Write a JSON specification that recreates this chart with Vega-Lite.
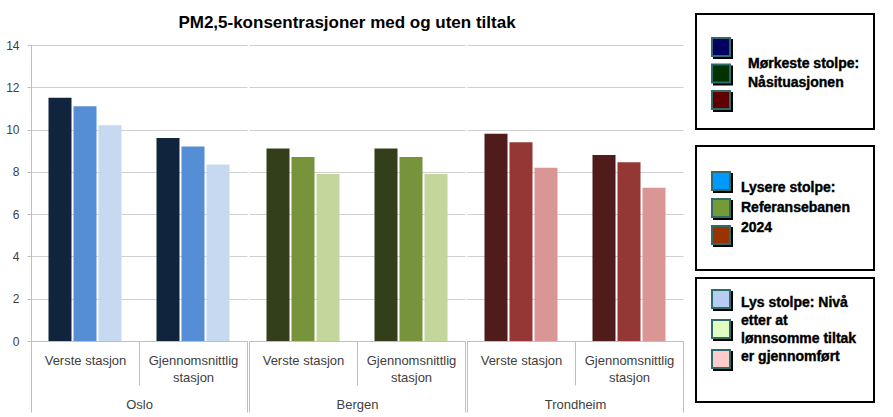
{
  "$schema": "https://vega.github.io/schema/vega-lite/v6.json",
  "padding": {"left": 5, "top": 13, "right": 0, "bottom": 0},
  "background": "#ffffff",
  "config": {
    "font": "Liberation Sans",
    "view": {"stroke": null},
    "axis": {"labelFont": "Liberation Sans", "titleFont": "Liberation Sans"}
  },
  "datasets": {
    "bars": [
      {"city": "Oslo", "station": "Verste stasjon", "level": "Nåsituasjonen", "value": 11.5},
      {"city": "Oslo", "station": "Verste stasjon", "level": "Referansebanen 2024", "value": 11.1},
      {"city": "Oslo", "station": "Verste stasjon", "level": "Etter lønnsomme tiltak", "value": 10.2},
      {"city": "Oslo", "station": "Gjennomsnittlig stasjon", "level": "Nåsituasjonen", "value": 9.6},
      {"city": "Oslo", "station": "Gjennomsnittlig stasjon", "level": "Referansebanen 2024", "value": 9.2},
      {"city": "Oslo", "station": "Gjennomsnittlig stasjon", "level": "Etter lønnsomme tiltak", "value": 8.35},
      {"city": "Bergen", "station": "Verste stasjon", "level": "Nåsituasjonen", "value": 9.1},
      {"city": "Bergen", "station": "Verste stasjon", "level": "Referansebanen 2024", "value": 8.7},
      {"city": "Bergen", "station": "Verste stasjon", "level": "Etter lønnsomme tiltak", "value": 7.9},
      {"city": "Bergen", "station": "Gjennomsnittlig stasjon", "level": "Nåsituasjonen", "value": 9.1},
      {"city": "Bergen", "station": "Gjennomsnittlig stasjon", "level": "Referansebanen 2024", "value": 8.7},
      {"city": "Bergen", "station": "Gjennomsnittlig stasjon", "level": "Etter lønnsomme tiltak", "value": 7.9},
      {"city": "Trondheim", "station": "Verste stasjon", "level": "Nåsituasjonen", "value": 9.8},
      {"city": "Trondheim", "station": "Verste stasjon", "level": "Referansebanen 2024", "value": 9.4},
      {"city": "Trondheim", "station": "Verste stasjon", "level": "Etter lønnsomme tiltak", "value": 8.2},
      {"city": "Trondheim", "station": "Gjennomsnittlig stasjon", "level": "Nåsituasjonen", "value": 8.8},
      {"city": "Trondheim", "station": "Gjennomsnittlig stasjon", "level": "Referansebanen 2024", "value": 8.45},
      {"city": "Trondheim", "station": "Gjennomsnittlig stasjon", "level": "Etter lønnsomme tiltak", "value": 7.25}
    ]
  },
  "spacing": 11,
  "resolve": {"scale": {"fill": "independent", "color": "independent"}},
  "hconcat": [
    {
      "spacing": 7,
      "vconcat": [
        {
          "width": 632, "height": 18,
          "data": {"values": [{"title": "PM2,5-konsentrasjoner med og uten tiltak"}]},
          "mark": {"type": "text", "font": "Liberation Sans", "fontSize": 17, "fontWeight": "bold", "color": "#000000", "align": "center", "baseline": "middle"},
          "encoding": {"text": {"field": "title"}}
        },
        {
          "spacing": 0,
          "resolve": {"scale": {"color": "independent"}},
          "hconcat": [
            {
              "width": 216, "height": 296,
              "data": {"name": "bars"},
              "transform": [{"filter": "datum.city === 'Oslo'"}],
              "mark": {"type": "bar"},
              "encoding": {
                "x": {"field": "station", "type": "nominal", "sort": ["Verste stasjon", "Gjennomsnittlig stasjon"],
                  "scale": {"paddingInner": 0, "paddingOuter": 0},
                  "axis": {"title": "Oslo", "titleY": 63, "titleBaseline": "middle", "titleFontSize": 13, "titleFontWeight": "normal", "titleColor": "#404040",
                    "labelAngle": 0, "labelFontSize": 13, "labelColor": "#404040", "labelLineHeight": 17, "labelBaseline": "top",
                    "labelPadding": {"condition": {"test": "datum.value === 'Verste stasjon'", "value": -31}, "value": -58},
                    "labelExpr": "datum.value == 'Gjennomsnittlig stasjon' ? ['Gjennomsnittlig', 'stasjon'] : datum.value",
                    "domainColor": "#bfbfbf", "tickColor": "#bfbfbf", "tickBand": "extent",
                    "tickSize": {"condition": {"test": "datum.value === 'Verste stasjon'", "value": 44}, "value": 71}}},
                "xOffset": {"field": "level", "type": "nominal", "sort": ["Nåsituasjonen", "Referansebanen 2024", "Etter lønnsomme tiltak"], "scale": {"paddingInner": 0.08, "paddingOuter": 0.7}},
                "y": {"field": "value", "type": "quantitative", "scale": {"domain": [0, 14]},
                  "axis": {"title": null, "values": [0, 2, 4, 6, 8, 10, 12, 14], "grid": true, "gridColor": "#d0d0d0", "domainColor": "#bfbfbf", "tickColor": "#bfbfbf", "tickSize": 4, "labelPadding": 8, "labelFontSize": 12, "labelColor": "#404040"}},
                "color": {"field": "level", "type": "nominal", "sort": ["Nåsituasjonen", "Referansebanen 2024", "Etter lønnsomme tiltak"], "scale": {"range": ["#10243e", "#558ed5", "#c6d9f1"]}, "legend": null}
              }
            },
            {
              "width": 216, "height": 296,
              "data": {"name": "bars"},
              "transform": [{"filter": "datum.city === 'Bergen'"}],
              "mark": {"type": "bar"},
              "encoding": {
                "x": {"field": "station", "type": "nominal", "sort": ["Verste stasjon", "Gjennomsnittlig stasjon"],
                  "scale": {"paddingInner": 0, "paddingOuter": 0},
                  "axis": {"title": "Bergen", "titleY": 63, "titleBaseline": "middle", "titleFontSize": 13, "titleFontWeight": "normal", "titleColor": "#404040",
                    "labelAngle": 0, "labelFontSize": 13, "labelColor": "#404040", "labelLineHeight": 17, "labelBaseline": "top",
                    "labelPadding": {"condition": {"test": "datum.value === 'Verste stasjon'", "value": -31}, "value": -58},
                    "labelExpr": "datum.value == 'Gjennomsnittlig stasjon' ? ['Gjennomsnittlig', 'stasjon'] : datum.value",
                    "domainColor": "#bfbfbf", "tickColor": "#bfbfbf", "tickBand": "extent",
                    "tickSize": {"condition": {"test": "datum.value === 'Verste stasjon'", "value": 44}, "value": 71}}},
                "xOffset": {"field": "level", "type": "nominal", "sort": ["Nåsituasjonen", "Referansebanen 2024", "Etter lønnsomme tiltak"], "scale": {"paddingInner": 0.08, "paddingOuter": 0.7}},
                "y": {"field": "value", "type": "quantitative", "scale": {"domain": [0, 14]},
                  "axis": {"title": null, "values": [0, 2, 4, 6, 8, 10, 12, 14], "grid": true, "gridColor": "#d0d0d0", "domain": false, "ticks": false, "labels": false}},
                "color": {"field": "level", "type": "nominal", "sort": ["Nåsituasjonen", "Referansebanen 2024", "Etter lønnsomme tiltak"], "scale": {"range": ["#323f1a", "#77933c", "#c3d69b"]}, "legend": null}
              }
            },
            {
              "width": 216, "height": 296,
              "data": {"name": "bars"},
              "transform": [{"filter": "datum.city === 'Trondheim'"}],
              "mark": {"type": "bar"},
              "encoding": {
                "x": {"field": "station", "type": "nominal", "sort": ["Verste stasjon", "Gjennomsnittlig stasjon"],
                  "scale": {"paddingInner": 0, "paddingOuter": 0},
                  "axis": {"title": "Trondheim", "titleY": 63, "titleBaseline": "middle", "titleFontSize": 13, "titleFontWeight": "normal", "titleColor": "#404040",
                    "labelAngle": 0, "labelFontSize": 13, "labelColor": "#404040", "labelLineHeight": 17, "labelBaseline": "top",
                    "labelPadding": {"condition": {"test": "datum.value === 'Verste stasjon'", "value": -31}, "value": -58},
                    "labelExpr": "datum.value == 'Gjennomsnittlig stasjon' ? ['Gjennomsnittlig', 'stasjon'] : datum.value",
                    "domainColor": "#bfbfbf", "tickColor": "#bfbfbf", "tickBand": "extent",
                    "tickSize": {"condition": {"test": "datum.value === 'Verste stasjon'", "value": 44}, "value": 71}}},
                "xOffset": {"field": "level", "type": "nominal", "sort": ["Nåsituasjonen", "Referansebanen 2024", "Etter lønnsomme tiltak"], "scale": {"paddingInner": 0.08, "paddingOuter": 0.7}},
                "y": {"field": "value", "type": "quantitative", "scale": {"domain": [0, 14]},
                  "axis": {"title": null, "values": [0, 2, 4, 6, 8, 10, 12, 14], "grid": true, "gridColor": "#d0d0d0", "domain": false, "ticks": false, "labels": false}},
                "color": {"field": "level", "type": "nominal", "sort": ["Nåsituasjonen", "Referansebanen 2024", "Etter lønnsomme tiltak"], "scale": {"range": ["#4f1b1b", "#953735", "#d99694"]}, "legend": null}
              }
            }
          ]
        }
      ]
    },
    {
      "spacing": 15,
      "resolve": {"scale": {"fill": "independent"}},
      "vconcat": [
        {
          "width": 178, "height": 115,
          "view": {"stroke": "#000000", "strokeWidth": 2},
          "resolve": {"scale": {"y": "independent"}},
          "layer": [
            {
              "data": {"values": [{"city": "Oslo"}, {"city": "Bergen"}, {"city": "Trondheim"}]},
              "layer": [
                {
                  "mark": {"type": "square", "size": 400, "filled": true, "color": "#000000", "opacity": 1, "xOffset": 2, "yOffset": 2},
                  "encoding": {
                    "x": {"datum": "swatch", "type": "nominal", "scale": {"type": "point", "domain": ["swatch", "text"], "range": [25, 52], "padding": 0}, "axis": null},
                    "y": {"field": "city", "type": "nominal", "scale": {"type": "point", "domain": ["Oslo", "Bergen", "Trondheim"], "range": [33, 86], "padding": 0}, "axis": null}
                  }
                },
                {
                  "mark": {"type": "square", "size": 324, "filled": true, "opacity": 1, "stroke": "#2e6b6b", "strokeWidth": 2},
                  "encoding": {
                    "x": {"datum": "swatch", "type": "nominal", "axis": null},
                    "y": {"field": "city", "type": "nominal", "axis": null},
                    "fill": {"field": "city", "type": "nominal", "scale": {"domain": ["Oslo", "Bergen", "Trondheim"], "range": ["#000060", "#003300", "#600000"]}, "legend": null}
                  }
                }
              ]
            },
            {
              "data": {"values": [{"line": 1, "text": "Mørkeste stolpe:"}, {"line": 2, "text": "Nåsituasjonen"}]},
              "mark": {"type": "text", "align": "left", "baseline": "middle", "font": "Liberation Sans", "fontSize": 14, "fontWeight": "bold", "color": "#000000", "stroke": "#000000", "strokeWidth": 0.4},
              "encoding": {
                "x": {"datum": "text", "type": "nominal", "axis": null},
                "y": {"field": "line", "type": "ordinal", "scale": {"type": "point", "range": [50, 69], "padding": 0}, "axis": null},
                "text": {"field": "text"}
              }
            }
          ]
        },
        {
          "spacing": 6,
          "resolve": {"scale": {"fill": "independent"}},
          "vconcat": [
            {
              "width": 178, "height": 124,
              "view": {"stroke": "#000000", "strokeWidth": 2},
              "resolve": {"scale": {"y": "independent"}},
              "layer": [
                {
                  "data": {"values": [{"city": "Oslo"}, {"city": "Bergen"}, {"city": "Trondheim"}]},
                  "layer": [
                    {
                      "mark": {"type": "square", "size": 400, "filled": true, "color": "#000000", "opacity": 1, "xOffset": 2, "yOffset": 2},
                      "encoding": {
                        "x": {"datum": "swatch", "type": "nominal", "scale": {"type": "point", "domain": ["swatch", "text"], "range": [25, 45], "padding": 0}, "axis": null},
                        "y": {"field": "city", "type": "nominal", "scale": {"type": "point", "domain": ["Oslo", "Bergen", "Trondheim"], "range": [35, 89], "padding": 0}, "axis": null}
                      }
                    },
                    {
                      "mark": {"type": "square", "size": 324, "filled": true, "opacity": 1, "stroke": "#2e6b6b", "strokeWidth": 2},
                      "encoding": {
                        "x": {"datum": "swatch", "type": "nominal", "axis": null},
                        "y": {"field": "city", "type": "nominal", "axis": null},
                        "fill": {"field": "city", "type": "nominal", "scale": {"domain": ["Oslo", "Bergen", "Trondheim"], "range": ["#0099ff", "#789a36", "#993300"]}, "legend": null}
                      }
                    }
                  ]
                },
                {
                  "data": {"values": [{"line": 1, "text": "Lysere stolpe:"}, {"line": 2, "text": "Referansebanen"}, {"line": 3, "text": "2024"}]},
                  "mark": {"type": "text", "align": "left", "baseline": "middle", "font": "Liberation Sans", "fontSize": 14, "fontWeight": "bold", "color": "#000000", "stroke": "#000000", "strokeWidth": 0.4},
                  "encoding": {
                    "x": {"datum": "text", "type": "nominal", "axis": null},
                    "y": {"field": "line", "type": "ordinal", "scale": {"type": "point", "range": [42, 82], "padding": 0}, "axis": null},
                    "text": {"field": "text"}
                  }
                }
              ]
            },
            {
              "width": 178, "height": 124,
              "view": {"stroke": "#000000", "strokeWidth": 2},
              "resolve": {"scale": {"y": "independent"}},
              "layer": [
                {
                  "data": {"values": [{"city": "Oslo"}, {"city": "Bergen"}, {"city": "Trondheim"}]},
                  "layer": [
                    {
                      "mark": {"type": "square", "size": 400, "filled": true, "color": "#000000", "opacity": 1, "xOffset": 2, "yOffset": 2},
                      "encoding": {
                        "x": {"datum": "swatch", "type": "nominal", "scale": {"type": "point", "domain": ["swatch", "text"], "range": [25, 45], "padding": 0}, "axis": null},
                        "y": {"field": "city", "type": "nominal", "scale": {"type": "point", "domain": ["Oslo", "Bergen", "Trondheim"], "range": [21, 81], "padding": 0}, "axis": null}
                      }
                    },
                    {
                      "mark": {"type": "square", "size": 324, "filled": true, "opacity": 1, "stroke": "#2e6b6b", "strokeWidth": 2},
                      "encoding": {
                        "x": {"datum": "swatch", "type": "nominal", "axis": null},
                        "y": {"field": "city", "type": "nominal", "axis": null},
                        "fill": {"field": "city", "type": "nominal", "scale": {"domain": ["Oslo", "Bergen", "Trondheim"], "range": ["#b8ccf2", "#e0ffc0", "#ffcccc"]}, "legend": null}
                      }
                    }
                  ]
                },
                {
                  "data": {"values": [{"line": 1, "text": "Lys stolpe: Nivå"}, {"line": 2, "text": "etter at"}, {"line": 3, "text": "lønnsomme tiltak"}, {"line": 4, "text": "er gjennomført"}]},
                  "mark": {"type": "text", "align": "left", "baseline": "middle", "font": "Liberation Sans", "fontSize": 14, "fontWeight": "bold", "color": "#000000", "stroke": "#000000", "strokeWidth": 0.4},
                  "encoding": {
                    "x": {"datum": "text", "type": "nominal", "axis": null},
                    "y": {"field": "line", "type": "ordinal", "scale": {"type": "point", "range": [25, 79], "padding": 0}, "axis": null},
                    "text": {"field": "text"}
                  }
                }
              ]
            }
          ]
        }
      ]
    }
  ]
}
